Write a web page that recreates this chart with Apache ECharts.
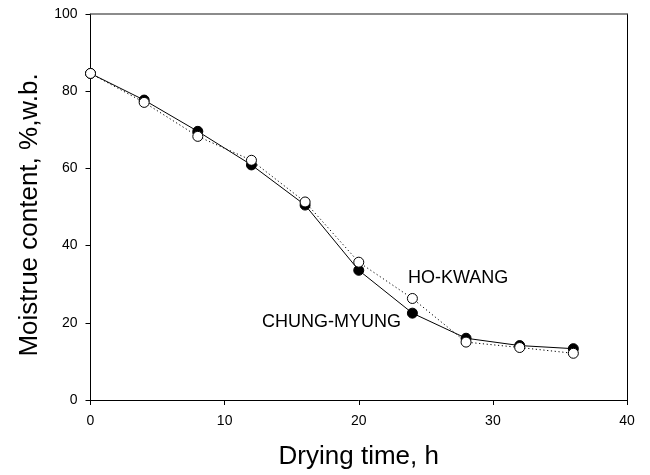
<!DOCTYPE html>
<html>
<head>
<meta charset="utf-8">
<script src="https://cdn.jsdelivr.net/npm/echarts@6/dist/echarts.min.js"></script>
<style>
  html, body { margin: 0; padding: 0; background: #fff; }
  #chart { width: 650px; height: 475px; }
</style>
</head>
<body>
<div id="chart"></div>
<script>
// drying time (h)
var hours = [0, 4, 8, 12, 16, 20, 24, 28, 32, 36];
// moisture content, %, w.b.
var chungMyung = [84.6, 77.7, 69.6, 60.9, 50.5, 33.6, 22.5, 16.0, 14.1, 13.3];
var hoKwang = [84.6, 77.1, 68.3, 62.1, 51.3, 35.7, 26.3, 15.0, 13.6, 12.1];

function pairs(xs, ys) {
    var out = [];
    for (var i = 0; i < xs.length; i++) out.push([xs[i], ys[i]]);
    return out;
}

var chart = echarts.init(document.getElementById('chart'), null, { renderer: 'canvas' });

var labelFont = 'Liberation Sans, Arial, sans-serif';

chart.setOption({
    backgroundColor: '#fff',
    animation: false,
    grid: { left: 90.5, right: 23, top: 14, bottom: 75 },
    xAxis: [{
        type: 'value',
        min: 0, max: 40, interval: 10,
        name: 'Drying time, h',
        nameLocation: 'middle',
        nameGap: 44,
        nameTextStyle: { fontFamily: labelFont, fontSize: 26, color: '#000' },
        axisLine: { onZero: false, lineStyle: { color: '#000', width: 1 } },
        axisTick: { length: 5, lineStyle: { color: '#000' } },
        axisLabel: { fontFamily: labelFont, fontSize: 14, color: '#000', margin: 14 },
        splitLine: { show: false }
    }, {
        type: 'value',
        position: 'top',
        min: 0, max: 40,
        axisLine: { onZero: false, lineStyle: { color: '#666', width: 1.5 } },
        axisTick: { show: false },
        axisLabel: { show: false },
        splitLine: { show: false }
    }],
    yAxis: [{
        type: 'value',
        min: 0, max: 100, interval: 20,
        name: 'Moistrue content, %,w.b.',
        nameLocation: 'middle',
        nameGap: 48,
        nameTextStyle: { fontFamily: labelFont, fontSize: 26, color: '#000', padding: [0, 16, 0, 0] },
        axisLine: { show: true, onZero: false, lineStyle: { color: '#000', width: 1 } },
        axisTick: { show: true, length: 5, lineStyle: { color: '#000' } },
        axisLabel: { fontFamily: labelFont, fontSize: 14, color: '#000', margin: 13 },
        splitLine: { show: false }
    }, {
        type: 'value',
        position: 'right',
        min: 0, max: 100,
        axisLine: { show: true, onZero: false, lineStyle: { color: '#000', width: 1 } },
        axisTick: { show: false },
        axisLabel: { show: false },
        splitLine: { show: false }
    }],
    series: [{
        name: 'CHUNG-MYUNG',
        type: 'line',
        data: pairs(hours, chungMyung),
        symbol: 'circle',
        symbolSize: 10,
        lineStyle: { color: '#000', width: 1 },
        itemStyle: { color: '#000', borderColor: '#000', borderWidth: 1 },
        z: 2
    }, {
        name: 'HO-KWANG',
        type: 'line',
        data: pairs(hours, hoKwang),
        symbol: 'circle',
        symbolSize: 10,
        lineStyle: { color: '#000', width: 1, type: [1.2, 2.6] },
        itemStyle: { color: '#fff', borderColor: '#000', borderWidth: 1 },
        z: 3
    }],
    graphic: [{
        type: 'text',
        left: 408, top: 269,
        style: { text: 'HO-KWANG', font: '18px ' + labelFont, fill: '#000' }
    }, {
        type: 'text',
        left: 262, top: 313,
        style: { text: 'CHUNG-MYUNG', font: '18px ' + labelFont, fill: '#000' }
    }]
});
</script>
</body>
</html>
